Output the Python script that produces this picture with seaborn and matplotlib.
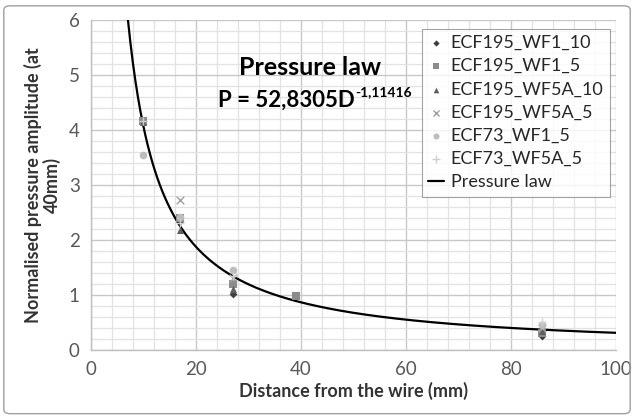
import numpy as np
import pandas as pd
import matplotlib
matplotlib.use("Agg")
import matplotlib.pyplot as plt
import seaborn as sns
from matplotlib.ticker import MultipleLocator

# Measured normalised pressure amplitudes by distance from the wire (mm)
wf1_10_x = [10, 17, 27, 86]
wf1_10_y = [4.17, 2.35, 1.02, 0.25]
wf1_5_x = [10, 17, 27, 39, 86]
wf1_5_y = [4.17, 2.40, 1.20, 0.98, 0.30]
wf5a_10_x = [10, 17, 27, 86]
wf5a_10_y = [4.15, 2.18, 1.10, 0.35]
wf5a_5_x = [17, 27, 86]
wf5a_5_y = [2.73, 1.30, 0.40]
ecf73_wf1_x = [10, 17, 27, 86]
ecf73_wf1_y = [3.55, 2.42, 1.45, 0.45]
ecf73_wf5a_x = [10, 17, 27, 86]
ecf73_wf5a_y = [4.17, 2.30, 1.35, 0.50]

series_names = ["ECF195_WF1_10", "ECF195_WF1_5", "ECF195_WF5A_10",
                "ECF195_WF5A_5", "ECF73_WF1_5", "ECF73_WF5A_5"]

# Fitted power law P = a * D^b
law_a = 52.8305
law_b = -1.11416

sns.set_theme(style="white")
plt.rcParams["font.family"] = ["Lato", "DejaVu Sans"]

frames = []
for name, xs, ys in zip(series_names,
                        [wf1_10_x, wf1_5_x, wf5a_10_x, wf5a_5_x, ecf73_wf1_x, ecf73_wf5a_x],
                        [wf1_10_y, wf1_5_y, wf5a_10_y, wf5a_5_y, ecf73_wf1_y, ecf73_wf5a_y]):
    frames.append(pd.DataFrame({"d": xs, "p": ys, "series": name}))
pts = pd.concat(frames, ignore_index=True)

d_fit = np.linspace((6.0 / law_a) ** (1 / law_b), 100, 400)
fit = pd.DataFrame({"d": d_fit, "p": law_a * d_fit ** law_b, "series": "Pressure law"})

fig = plt.figure(figsize=(6.34, 4.17), dpi=100)
ax = fig.add_axes([0.1435, 0.1607, 0.828, 0.7913])

palette = {"ECF195_WF1_10": "#3f3f3f", "ECF195_WF1_5": "#8c8c8c",
           "ECF195_WF5A_10": "#5f5f5f", "ECF195_WF5A_5": "#a0a0a0",
           "ECF73_WF1_5": "#bdbdbd", "ECF73_WF5A_5": "#cfcfcf"}
markers = {"ECF195_WF1_10": "D", "ECF195_WF1_5": "s", "ECF195_WF5A_10": "^",
           "ECF195_WF5A_5": "x", "ECF73_WF1_5": "o", "ECF73_WF5A_5": "+"}
sizes = {"ECF195_WF1_10": 16, "ECF195_WF1_5": 26, "ECF195_WF5A_10": 26,
         "ECF195_WF5A_5": 30, "ECF73_WF1_5": 30, "ECF73_WF5A_5": 40}

for name in series_names:
    sub = pts[pts.series == name]
    lw = 1.0 if markers[name] in ("x", "+") else 0
    sns.scatterplot(data=sub, x="d", y="p", ax=ax, color=palette[name],
                    marker=markers[name], s=sizes[name], linewidth=lw,
                    edgecolor=palette[name] if lw == 0 else None,
                    label=name, zorder=3)

sns.lineplot(data=fit, x="d", y="p", ax=ax, color="black", linewidth=1.6,
             label="Pressure law", zorder=2)

ax.set_xlim(0, 100)
ax.set_ylim(0, 6)
ax.xaxis.set_major_locator(MultipleLocator(20))
ax.xaxis.set_minor_locator(MultipleLocator(4))
ax.yaxis.set_major_locator(MultipleLocator(1))
ax.yaxis.set_minor_locator(MultipleLocator(0.2))
ax.grid(which="major", color="#c8c8c8", linewidth=1.0)
ax.grid(which="minor", color="#e2e2e2", linewidth=0.9)
ax.set_axisbelow(True)
for side in ["top", "right"]:
    ax.spines[side].set_visible(False)
for side in ["left", "bottom"]:
    ax.spines[side].set_color("#bfbfbf")
    ax.spines[side].set_linewidth(1.0)
ax.tick_params(axis="both", which="both", length=0, labelsize=13.5,
               colors="#595959", pad=8)

ax.set_xlabel("Distance from the wire (mm)", fontsize=13, fontweight="bold",
              color="#333333", labelpad=3)
ax.set_ylabel("Normalised pressure amplitude (at\n40mm)", fontsize=13,
              fontweight="bold", color="#333333", labelpad=6, linespacing=1.05)

ax.text(0.417, 0.855, "Pressure law", transform=ax.transAxes, ha="center",
        va="center", fontsize=18, fontweight="bold", color="black")
eq = ax.text(0.242, 0.758, "P = 52,8305D", transform=ax.transAxes, ha="left",
             va="center", fontsize=16, fontweight="bold", color="black")
ax.annotate("-1,11416", xy=(1.0, 0.6), xycoords=eq, ha="left", va="bottom",
            fontsize=10, fontweight="bold", color="black")

leg = ax.legend(loc="upper right", bbox_to_anchor=(0.995, 0.985), fontsize=13,
                frameon=True, fancybox=False, borderpad=0.35, labelspacing=0.4,
                handlelength=0.9, handletextpad=0.35, markerscale=0.8,
                borderaxespad=0.2)
leg.get_frame().set_edgecolor("#8c8c8c")
leg.get_frame().set_linewidth(0.8)
for t in leg.get_texts():
    t.set_color("#262626")

# outer chart border
fig.patches.append(matplotlib.patches.FancyBboxPatch(
    (0.006, 0.008), 0.988, 0.978, boxstyle="round,pad=0,rounding_size=0.01",
    transform=fig.transFigure, fill=False, edgecolor="#a0a0a0", linewidth=1.0))

fig.savefig("out.png", dpi=100)
